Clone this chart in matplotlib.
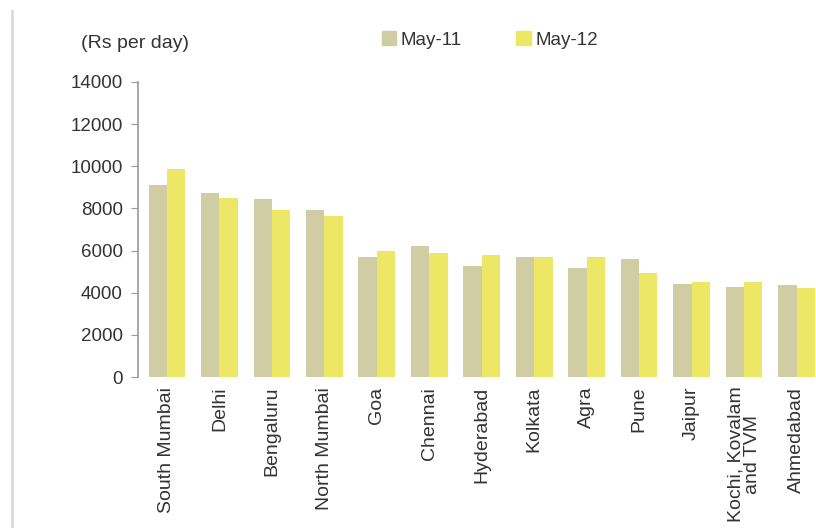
import numpy as np
from matplotlib import pyplot as plt
from matplotlib.lines import Line2D
from matplotlib.patches import Patch

plt.rcParams["font.family"] = ["Liberation Sans", "DejaVu Sans"]

cities = [
    "South Mumbai", "Delhi", "Bengaluru", "North Mumbai", "Goa", "Chennai",
    "Hyderabad", "Kolkata", "Agra", "Pune", "Jaipur", "Kochi, Kovalam\nand TVM",
    "Ahmedabad",
]
may11 = [9110, 8750, 8460, 7930, 5710, 6220, 5290, 5700, 5160, 5590, 4410, 4290, 4350]
may12 = [9870, 8510, 7930, 7660, 6000, 5890, 5810, 5700, 5700, 4950, 4510, 4510, 4210]

c11 = "#d0cda5"
c12 = "#ece866"
text_col = "#333333"

fig = plt.figure(figsize=(8.16, 5.28), dpi=100)
ax = fig.add_axes([138 / 816, 151 / 528, 690 / 816, 295 / 528])

x = np.arange(len(cities))
w = 0.35
ax.bar(x - w / 2, may11, w, color=c11, label="May-11")
ax.bar(x + w / 2, may12, w, color=c12, label="May-12")

ax.set_xlim(-0.552, 12.6)
ax.set_ylim(0, 14000)
ax.set_yticks(range(0, 14001, 2000))
ax.set_xticks(x)
ax.set_xticklabels(cities, rotation=90, fontsize=14, color=text_col, linespacing=0.95)
ax.tick_params(axis="x", length=0, pad=7)
ax.tick_params(axis="y", labelsize=13.5, labelcolor=text_col, color="#999999",
               length=5, direction="out", pad=6)

for s in ["top", "right", "bottom"]:
    ax.spines[s].set_visible(False)
ax.spines["left"].set_color("#999999")
ax.spines["left"].set_linewidth(1.2)

fig.text(135 / 816, 1 - 44 / 528, "(Rs per day)", ha="center", va="center",
         fontsize=14, color=text_col)

handles = [Patch(color=c11, label="May-11"), Patch(color=c12, label="May-12")]
fig.legend(handles=handles, loc="center", bbox_to_anchor=(490 / 816, 1 - 40 / 528),
           ncol=2, frameon=False, fontsize=13.5, handlelength=0.75, handleheight=0.75,
           handletextpad=0.25, columnspacing=2.9, labelcolor=text_col)

fig.add_artist(Line2D([12 / 816, 12 / 816], [0, 1 - 11 / 528], color="#d8d8d8",
                      linewidth=2, transform=fig.transFigure))

fig.savefig("out.png", dpi=100)
